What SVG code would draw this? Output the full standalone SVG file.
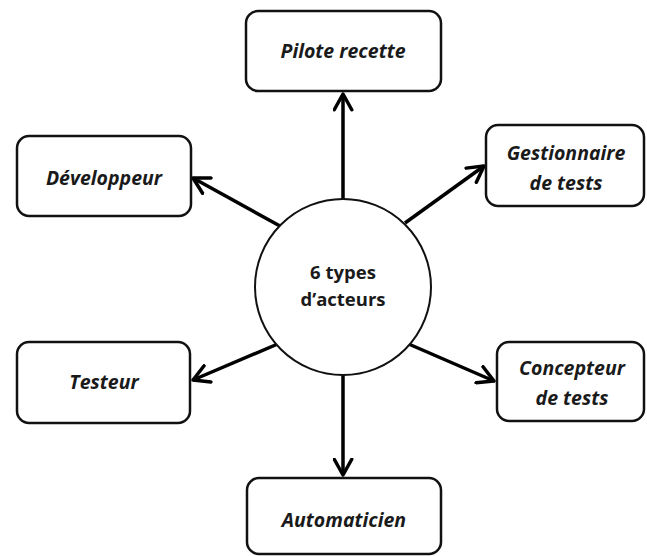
<svg xmlns="http://www.w3.org/2000/svg" width="647" height="556" viewBox="0 0 647 556">
<defs>
<style>
.box{fill:#fff;stroke:#111;stroke-width:2.5}
.lbl{font-family:"Open Sans","Liberation Sans",sans-serif;font-weight:bold;font-style:italic;font-size:19.5px;fill:#1a1a1a;text-anchor:middle}
.ctr{font-family:"Open Sans","Liberation Sans",sans-serif;font-weight:bold;font-size:18.5px;fill:#1a1a1a;text-anchor:middle}
.con{stroke:#000;stroke-width:3.5;fill:none;marker-end:url(#ah)}
</style>
<marker id="ah" viewBox="0 0 12 12" refX="10" refY="6" markerWidth="6" markerHeight="6" orient="auto" markerUnits="strokeWidth">
<path d="M1,1 L10,6 L1,11" fill="none" stroke="#000" stroke-width="2" stroke-linecap="round" stroke-linejoin="round"/>
</marker>
</defs>
<rect width="647" height="556" fill="#fff"/>
<g id="connectors">
<line class="con" x1="343" y1="200" x2="343" y2="94"/>
<line class="con" x1="280" y1="226" x2="193" y2="178"/>
<line class="con" x1="405" y1="223" x2="484" y2="166"/>
<line class="con" x1="280" y1="343" x2="193" y2="380"/>
<line class="con" x1="404" y1="342" x2="494" y2="381"/>
<line class="con" x1="343" y1="368" x2="343" y2="475"/>
</g>
<g id="center">
<circle cx="343" cy="287" r="88" fill="#fff" stroke="#111" stroke-width="2"/>
<text class="ctr" x="343" y="279">6 types</text>
<text class="ctr" x="343" y="306">d’acteurs</text>
</g>
<g id="pilote">
<rect class="box" x="246" y="11" width="195" height="80" rx="12"/>
<text class="lbl" x="343" y="58">Pilote recette</text>
</g>
<g id="developpeur">
<rect class="box" x="17" y="136" width="174" height="80" rx="12"/>
<text class="lbl" x="104" y="185">Développeur</text>
</g>
<g id="gestionnaire">
<rect class="box" x="486" y="125" width="158" height="81" rx="12"/>
<text class="lbl" x="566" y="160">Gestionnaire</text>
<text class="lbl" x="566" y="190">de tests</text>
</g>
<g id="testeur">
<rect class="box" x="17" y="342" width="173" height="81" rx="12"/>
<text class="lbl" x="104" y="389">Testeur</text>
</g>
<g id="concepteur">
<rect class="box" x="497" y="342" width="147" height="79" rx="12"/>
<text class="lbl" x="572" y="375">Concepteur</text>
<text class="lbl" x="572" y="405">de tests</text>
</g>
<g id="automaticien">
<rect class="box" x="247" y="478" width="194" height="76" rx="12"/>
<text class="lbl" x="344" y="527">Automaticien</text>
</g>
</svg>
